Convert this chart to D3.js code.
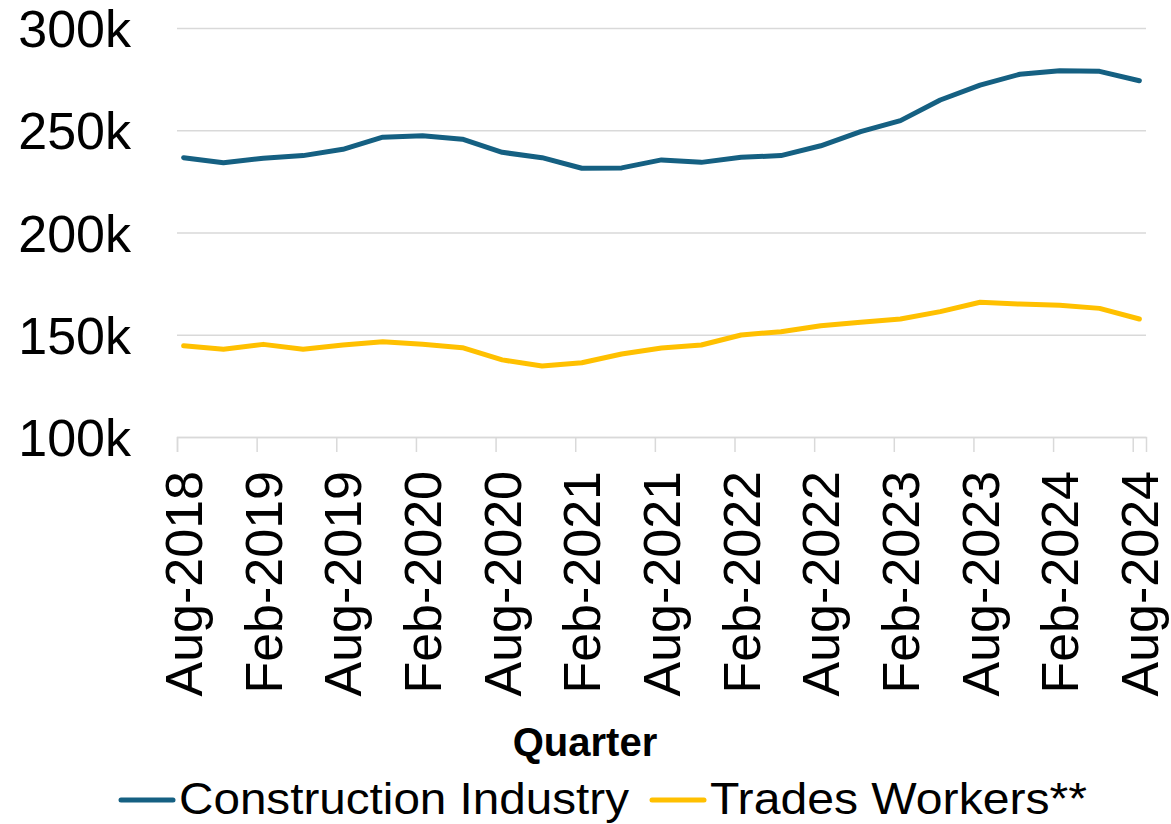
<!DOCTYPE html>
<html>
<head>
<meta charset="utf-8">
<script src="https://cdn.jsdelivr.net/npm/d3@7"></script>
<style>
  body { margin: 0; background: #fff; }
  text { font-family: "Liberation Sans", Arial, sans-serif; fill: #000; }
</style>
</head>
<body>
<div class="chartD3"></div>
<script>
// quarterly values, in thousands
const quarters = ['Aug-2018','Nov-2018','Feb-2019','May-2019','Aug-2019','Nov-2019','Feb-2020','May-2020',
                  'Aug-2020','Nov-2020','Feb-2021','May-2021','Aug-2021','Nov-2021','Feb-2022','May-2022',
                  'Aug-2022','Nov-2022','Feb-2023','May-2023','Aug-2023','Nov-2023','Feb-2024','May-2024','Aug-2024'];
const construction = [236.6, 234.1, 236.3, 237.6, 240.7, 246.6, 247.3, 245.6, 239.2, 236.6, 231.4, 231.6,
                      235.5, 234.3, 236.8, 237.6, 242.4, 249.3, 254.7, 264.8, 272.1, 277.4, 279.1, 278.8, 274.2];
const trades = [144.6, 142.9, 145.3, 142.9, 145.0, 146.6, 145.3, 143.7, 137.7, 134.7, 136.3, 140.6,
                143.5, 145.0, 149.9, 151.5, 154.4, 156.1, 157.7, 161.3, 165.9, 165.0, 164.4, 162.9, 157.7];
const yTicks = [100, 150, 200, 250, 300];
const seriesNames = ['Construction Industry', 'Trades Workers**'];
const colors = ['#156082', '#FFC000'];

let margin = {top: 28, right: 25, bottom: 387, left: 177};
let width = 1171 - margin.left - margin.right;
let height = 824 - margin.top - margin.bottom;

// date axis in months from Aug-2018, one month past the last point
const months = quarters.map((q, i) => i * 3);
const tickMonths = months.filter((m, i) => i % 2 === 0);

let svg = d3.select('.chartD3').append('svg')
    .attr('width', 1171)
    .attr('height', 824);

let chart = svg.append('g')
    .attr('transform', 'translate(' + margin.left + ',' + margin.top + ')');

let x = d3.scaleLinear().domain([0, 73]).range([0, width]);
let y = d3.scaleLinear().domain([100, 300]).range([height, 0]);

// gridlines + y labels
let yAxis = d3.axisLeft(y)
    .tickValues(yTicks)
    .tickSize(-width)
    .tickPadding(46)
    .tickFormat(d => d + 'k');

chart.append('g')
    .attr('id', 'y-axis')
    .call(yAxis)
    .call(g => g.select('.domain').remove())
    .call(g => g.selectAll('.tick line').attr('stroke', '#d9d9d9').attr('stroke-width', 1.5))
    .call(g => g.selectAll('.tick text')
        .style('font-size', '52px')
        .attr('dy', '0.36em'));

// x axis
let xAxis = d3.axisBottom(x)
    .tickValues(tickMonths)
    .tickSize(15)
    .tickFormat(m => quarters[months.indexOf(m)]);

chart.append('g')
    .attr('id', 'x-axis')
    .attr('transform', 'translate(0,' + height + ')')
    .call(xAxis)
    .call(g => g.select('.domain').attr('stroke', '#d9d9d9').attr('stroke-width', 1.5))
    .call(g => g.selectAll('.tick line').attr('stroke', '#d9d9d9').attr('stroke-width', 1.5))
    .call(g => g.selectAll('.tick text')
        .style('font-size', '52px')
        .attr('text-anchor', 'end')
        .attr('y', 0)
        .attr('dy', 0)
        .attr('transform', 'translate(' + (x(0.5) - x(0) + 18) + ',34) rotate(-90)'));

// lines
let line = d3.line()
    .x((d, i) => x(months[i] + 0.5))
    .y(d => y(d));

[construction, trades].forEach((s, k) => {
    chart.append('path')
        .datum(s)
        .attr('fill', 'none')
        .attr('stroke', colors[k])
        .attr('stroke-width', 5)
        .attr('stroke-linejoin', 'round')
        .attr('stroke-linecap', 'round')
        .attr('d', line);
});

// axis title
svg.append('text')
    .attr('x', 585)
    .attr('y', 756)
    .attr('text-anchor', 'middle')
    .style('font-size', '40px')
    .style('font-weight', 'bold')
    .text('Quarter');

// legend
const legendX = [119, 650];
const legendW = [450, 377];
seriesNames.forEach((name, k) => {
    let lg = svg.append('g').attr('transform', 'translate(' + legendX[k] + ',800)');
    lg.append('line')
        .attr('x1', 2).attr('x2', 54)
        .attr('stroke', colors[k])
        .attr('stroke-width', 5)
        .attr('stroke-linecap', 'round');
    lg.append('text')
        .attr('x', 60)
        .attr('y', 14)
        .attr('textLength', legendW[k])
        .attr('lengthAdjust', 'spacingAndGlyphs')
        .style('font-size', '45px')
        .text(name);
});
</script>
</body>
</html>
